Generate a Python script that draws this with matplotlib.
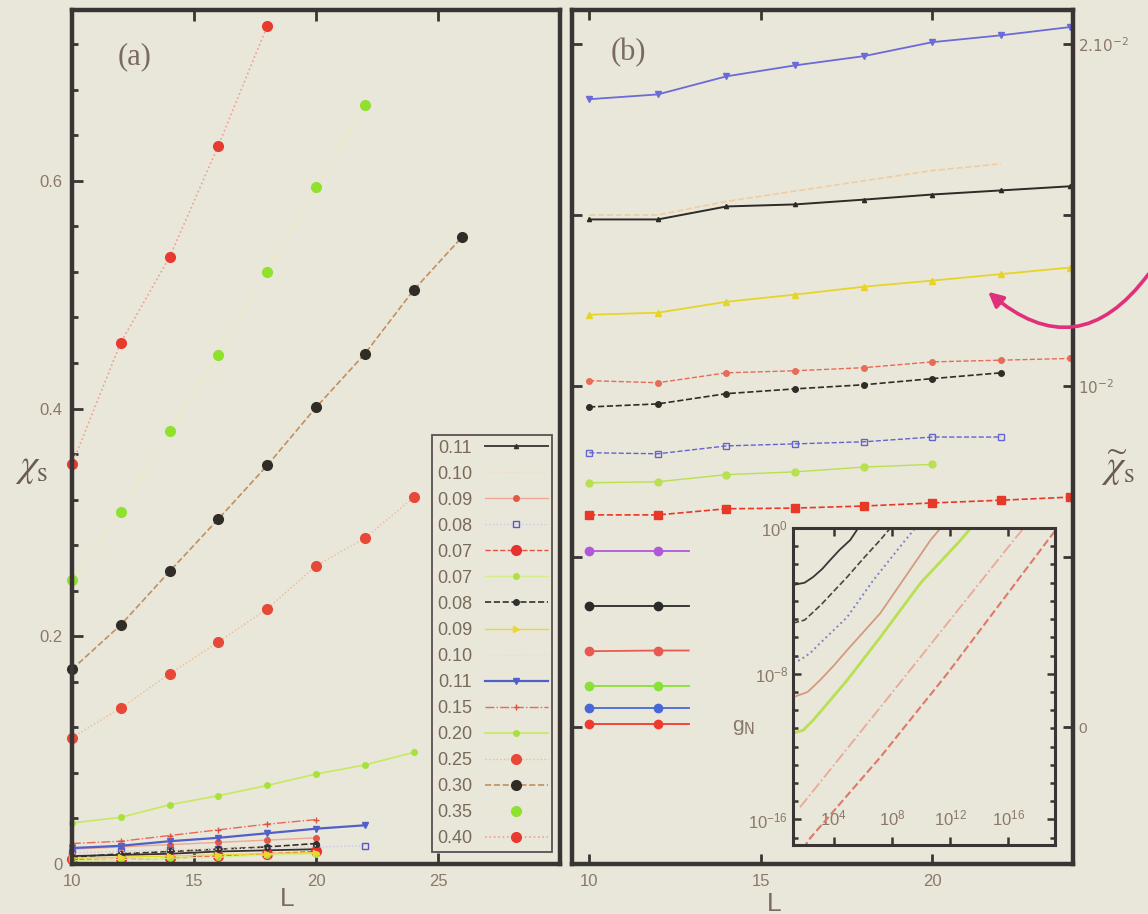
import matplotlib
matplotlib.use("Agg")
import matplotlib.pyplot as plt
from matplotlib.patches import FancyArrowPatch
from matplotlib.ticker import MultipleLocator, FixedLocator, NullFormatter, NullLocator

BG = "#e9e7da"
INK = "#3a3434"
TXT = "#8a7868"

# ---- panel (a): chi_s versus L ----
L_a = [10, 12, 14, 16, 18, 20, 22, 24, 26]
chi_a_011k = [0.007, 0.008, 0.009, 0.011, 0.012, 0.013]
chi_a_010a = [0.010, 0.011, 0.013, 0.014, 0.016, 0.017]
chi_a_009r = [0.013, 0.015, 0.017, 0.019, 0.021, 0.023]
chi_a_008b = [0.010, 0.011, 0.012, 0.013, 0.014, 0.015, 0.016]
chi_a_007r = [0.004, 0.004, 0.005, 0.007, 0.009, 0.011]
chi_a_007g = [0.003, 0.004, 0.005, 0.006, 0.008, 0.009]
chi_a_008k = [0.006, 0.009, 0.011, 0.013, 0.015, 0.018]
chi_a_009y = [0.005, 0.006, 0.007, 0.008, 0.009, 0.010]
chi_a_010p = [0.009, 0.010, 0.012, 0.013, 0.014, 0.016]
chi_a_011b = [0.014, 0.016, 0.020, 0.023, 0.027, 0.031, 0.034]
chi_a_015 = [0.018, 0.020, 0.025, 0.030, 0.035, 0.039]
chi_a_020 = [0.036, 0.041, 0.052, 0.060, 0.069, 0.079, 0.087, 0.098]
chi_a_025 = [0.111, 0.137, 0.167, 0.195, 0.224, 0.262, 0.286, 0.322]
chi_a_030 = [0.171, 0.210, 0.257, 0.303, 0.350, 0.401, 0.448, 0.504, 0.551]
chi_a_035 = [0.249, 0.309, 0.380, 0.447, 0.520, 0.595, 0.667]
chi_a_040 = [0.351, 0.458, 0.533, 0.631, 0.736]
labels_a = ["0.11", "0.10", "0.09", "0.08", "0.07", "0.07", "0.08", "0.09",
            "0.10", "0.11", "0.15", "0.20", "0.25", "0.30", "0.35", "0.40"]

# ---- panel (b): rescaled chi_s versus L ----
L_b = [10, 12, 14, 16, 18, 20, 22, 24]
L_b_short = [10, 12, 12.9]
chit_b1 = [0.01839, 0.01853, 0.01906, 0.01938, 0.01965, 0.02006, 0.02026, 0.0205]
chit_b2 = [0.01487, 0.01487, 0.01525, 0.01531, 0.01545, 0.0156, 0.01572, 0.01584]
chit_b3 = [0.0150, 0.0150, 0.0154, 0.0157, 0.0160, 0.0163, 0.0165]
chit_b4 = [0.01208, 0.01214, 0.01246, 0.01267, 0.0129, 0.01308, 0.01327, 0.01346]
chit_b5 = [0.01015, 0.01009, 0.01038, 0.01044, 0.01053, 0.0107, 0.01075, 0.0108]
chit_b6 = [0.00938, 0.00947, 0.00977, 0.00991, 0.01003, 0.01021, 0.01038]
chit_b7 = [0.00804, 0.00801, 0.00824, 0.0083, 0.00836, 0.0085, 0.0085]
chit_b8 = [0.00716, 0.00719, 0.0074, 0.00748, 0.00762, 0.0077]
chit_b9 = [0.00622, 0.00622, 0.0064, 0.00642, 0.00648, 0.00657, 0.00665, 0.00674]
chit_b10 = [0.00516, 0.00516, 0.00516]
chit_b11 = [0.00355, 0.00355, 0.00355]
chit_b12 = [0.00223, 0.00225, 0.00225]
chit_b13 = [0.0012, 0.0012, 0.0012]
chit_b14 = [0.00056, 0.00056, 0.00056]
chit_b15 = [0.00009, 0.00009, 0.00009]

# ---- inset: g_N versus N (log10 of both) ----
logN_1 = [1.2, 2.0, 2.58, 3.2, 3.75, 4.4, 5.13, 5.68]
logg_1 = [-3.13, -3.0, -2.69, -2.25, -1.76, -1.2, -0.66, 0.0]
logN_2 = [1.2, 2.0, 2.58, 3.2, 3.75, 4.92, 6.0, 7.19, 7.89]
logg_2 = [-5.22, -5.05, -4.62, -4.15, -3.68, -2.69, -1.7, -0.66, 0.0]
logN_3 = [1.2, 1.68, 2.4, 3.06, 4.0, 4.92, 6.72, 8.92, 9.61]
logg_3 = [-7.36, -7.25, -6.85, -6.32, -5.6, -4.89, -2.86, -0.66, 0.0]
logN_4 = [1.2, 2.2, 3.06, 4.0, 4.92, 7.2, 10.65, 11.34]
logg_4 = [-9.29, -9.0, -8.35, -7.55, -6.70, -4.67, -0.66, 0.0]
logN_5 = [1.2, 1.9, 2.58, 3.6, 4.92, 7.2, 9.96, 12.72, 13.41]
logg_5 = [-11.26, -11.1, -10.55, -9.6, -8.35, -5.99, -3.02, -0.66, 0.0]
logN_6 = [1.68, 7.2, 11.82, 16.37, 17.06]
logg_6 = [-15.33, -9.84, -5.22, -0.66, 0.0]
logN_7 = [1.9, 2.37, 7.2, 11.82, 18.72, 19.2]
logg_7 = [-17.6, -17.03, -12.58, -7.97, -0.66, -0.16]

plt.rcParams["font.family"] = ["Liberation Sans", "DejaVu Sans"]
fig = plt.figure(figsize=(11.48, 9.14), dpi=100, facecolor=BG)

ax_a = fig.add_axes([0.0627, 0.0547, 0.4251, 0.9343], facecolor=BG)
ax_b = fig.add_axes([0.4983, 0.0547, 0.4364, 0.9343], facecolor=BG)
ax_in = fig.add_axes([0.6908, 0.0755, 0.2282, 0.3468], facecolor=BG)

styles_a = [
    dict(color="#3a3030", ls="-", lw=1.3, marker="^", ms=3, mfc="#3a3030", mec="#3a3030"),
    dict(color="#f2dcc0", ls=":", lw=1.0, marker="", ms=0),
    dict(color="#f0a890", ls="-", lw=1.0, marker="o", ms=4, mfc="#e05848", mec="#e05848"),
    dict(color="#c8c8e8", ls=":", lw=1.0, marker="s", ms=5, mfc="none", mec="#5858c8"),
    dict(color="#e85040", ls="--", lw=1.0, marker="o", ms=7, mfc="#e83030", mec="#e83030"),
    dict(color="#d8ec90", ls="-", lw=1.0, marker="o", ms=4, mfc="#b0e040", mec="#b0e040"),
    dict(color="#303030", ls="--", lw=1.2, marker="o", ms=4, mfc="#303030", mec="#303030"),
    dict(color="#e8d830", ls="-", lw=1.0, marker=">", ms=4, mfc="#e8d830", mec="#e8d830"),
    dict(color="#f4d8c8", ls=":", lw=1.0, marker="", ms=0),
    dict(color="#5060c8", ls="-", lw=1.6, marker="v", ms=4, mfc="#5060c8", mec="#5060c8"),
    dict(color="#e86858", ls="-.", lw=1.0, marker="+", ms=5, mfc="#e05040", mec="#e05040"),
    dict(color="#c8e860", ls="-", lw=1.2, marker="o", ms=4, mfc="#a8e040", mec="#a8e040"),
    dict(color="#f0b890", ls=":", lw=1.0, marker="o", ms=7, mfc="#e84838", mec="#e84838"),
    dict(color="#c09060", ls="--", lw=1.2, marker="o", ms=7, mfc="#302c28", mec="#302c28"),
    dict(color="#f0e8a8", ls=":", lw=1.0, marker="o", ms=7, mfc="#90e030", mec="#90e030"),
    dict(color="#f0a090", ls=":", lw=1.2, marker="o", ms=7, mfc="#e83a30", mec="#e83a30"),
]
series_a = [chi_a_011k, chi_a_010a, chi_a_009r, chi_a_008b, chi_a_007r, chi_a_007g,
            chi_a_008k, chi_a_009y, chi_a_010p, chi_a_011b, chi_a_015, chi_a_020,
            chi_a_025, chi_a_030, chi_a_035, chi_a_040]
for lab, vals, st in zip(labels_a, series_a, styles_a):
    ax_a.plot(L_a[:len(vals)], vals, label=lab, clip_on=False, **st)

ax_a.set_xlim(10, 30)
ax_a.set_ylim(0, 0.75)
ax_a.xaxis.set_major_locator(FixedLocator([10, 15, 20, 25]))
ax_a.xaxis.set_minor_locator(NullLocator())
ax_a.yaxis.set_major_locator(FixedLocator([0, 0.2, 0.4, 0.6]))
ax_a.yaxis.set_minor_locator(MultipleLocator(0.04))
ax_a.set_yticklabels(["0", "0.2", "0.4", "0.6"])
ax_a.tick_params(which="both", direction="in", top=True, right=False,
                 colors=INK, labelcolor=TXT, labelsize=12, width=2)
ax_a.tick_params(which="major", length=8, pad=7)
ax_a.tick_params(which="minor", length=4)

leg = ax_a.legend(loc="lower right", bbox_to_anchor=(1.003, 0.004), fontsize=13,
                  markerfirst=False, handlelength=3.5, handletextpad=0.7,
                  labelspacing=0.5, borderpad=0.25, fancybox=False,
                  facecolor=BG, edgecolor="#5a5050", framealpha=1.0,
                  labelcolor="#7a6a5a")
leg.get_frame().set_linewidth(1.3)

styles_b = [
    dict(color="#6a6ad8", ls="-", lw=1.3, marker="v", ms=4),
    dict(color="#2e2a26", ls="-", lw=1.4, marker="^", ms=3),
    dict(color="#f2cca0", ls="--", lw=1.2, marker="", ms=0),
    dict(color="#e6d428", ls="-", lw=1.3, marker="^", ms=4),
    dict(color="#e86a58", ls="--", lw=1.0, marker="o", ms=4),
    dict(color="#302c28", ls="--", lw=1.2, marker="o", ms=4),
    dict(color="#6464d0", ls="--", lw=1.0, marker="s", ms=5, mfc="none"),
    dict(color="#b8e050", ls="-", lw=1.0, marker="o", ms=5),
    dict(color="#e83828", ls="--", lw=1.2, marker="s", ms=6),
]
series_b = [chit_b1, chit_b2, chit_b3, chit_b4, chit_b5, chit_b6, chit_b7, chit_b8, chit_b9]
for vals, st in zip(series_b, styles_b):
    ax_b.plot(L_b[:len(vals)], vals, **st)

short_colors = ["#b058d8", "#2a2a28", "#e85a50", "#88e038", "#4868d8", "#f03a30"]
short_series = [chit_b10, chit_b11, chit_b12, chit_b13, chit_b14, chit_b15]
for vals, c in zip(short_series, short_colors):
    ax_b.plot(L_b_short, vals, color=c, lw=1.3, marker="o", ms=6, markevery=[0, 1])

ax_b.set_xlim(9.5, 24.1)
ax_b.set_ylim(-0.004, 0.021)
ax_b.xaxis.set_major_locator(FixedLocator([10, 15, 20]))
ax_b.xaxis.set_minor_locator(NullLocator())
ax_b.yaxis.set_major_locator(FixedLocator([0, 0.005, 0.01, 0.015, 0.02]))
ax_b.yaxis.set_minor_locator(NullLocator())
ax_b.set_yticklabels(["0", "", r"$10^{-2}$", "", r"$2.10^{-2}$"])
ax_b.tick_params(which="both", direction="in", top=True, left=True, right=True,
                 labelleft=False, labelright=True, colors=INK, labelcolor=TXT,
                 labelsize=11, width=2, length=7)
ax_b.tick_params(axis="x", labelsize=12, pad=7)

for ax in (ax_a, ax_b):
    for sp in ax.spines.values():
        sp.set_linewidth(3.2)
        sp.set_color(INK)

inset_styles = [
    dict(color="#3a3636", ls="-", lw=1.3),
    dict(color="#4a4644", ls="--", lw=1.2),
    dict(color="#8080c8", ls=":", lw=1.4),
    dict(color="#d49a80", ls="-", lw=1.3),
    dict(color="#b8e050", ls="-", lw=2.0),
    dict(color="#eaa898", ls="-.", lw=1.3),
    dict(color="#e07868", ls="--", lw=1.5),
]
inset_x = [logN_1, logN_2, logN_3, logN_4, logN_5, logN_6, logN_7]
inset_y = [logg_1, logg_2, logg_3, logg_4, logg_5, logg_6, logg_7]
for xs, ys, st in zip(inset_x, inset_y, inset_styles):
    ax_in.plot([10.0 ** v for v in xs], [10.0 ** v for v in ys], **st)

ax_in.set_xscale("log")
ax_in.set_yscale("log")
ax_in.set_xlim(10 ** 1.2, 10 ** 19.2)
ax_in.set_ylim(10 ** -17.4, 1.0)
ax_in.xaxis.set_major_locator(FixedLocator([1e4, 1e8, 1e12, 1e16]))
ax_in.xaxis.set_minor_locator(NullLocator())
ax_in.yaxis.set_major_locator(FixedLocator([1e0, 1e-8, 1e-16]))
ax_in.yaxis.set_minor_locator(FixedLocator([10.0 ** -k for k in range(0, 18)]))
ax_in.yaxis.set_minor_formatter(NullFormatter())
ax_in.tick_params(which="both", direction="in", top=True, right=True,
                  colors=INK, labelcolor=TXT, labelsize=12, width=1.8)
ax_in.tick_params(which="major", length=6)
ax_in.tick_params(which="minor", length=3.5)
ax_in.tick_params(axis="x", pad=-26)
for sp in ax_in.spines.values():
    sp.set_linewidth(2.2)
    sp.set_color(INK)
ax_in.text(-0.19, 0.372, r"g$_{\rm N}$", transform=ax_in.transAxes, fontsize=15,
           color=TXT, ha="center", va="center")

# panel tags and axis labels
fig.text(0.1176, 0.9376, "(a)", fontsize=22, color="#7a6a60",
         family=["Liberation Serif"], ha="center", va="center")
fig.text(0.547, 0.943, "(b)", fontsize=22, color="#7a6a60",
         family=["Liberation Serif"], ha="center", va="center")
fig.text(0.028, 0.488, r"$\chi_{\mathrm{s}}$", fontsize=28, color="#6a5c52",
         math_fontfamily="stix", ha="center", va="center")
fig.text(0.974, 0.488, r"$\widetilde{\chi}_{\mathrm{s}}$", fontsize=28, color="#6a5c52",
         math_fontfamily="stix", ha="center", va="center")
fig.text(0.25, 0.016, "L", fontsize=19, color="#7a6a60", ha="center", va="center")
fig.text(0.674, 0.011, "L", fontsize=19, color="#7a6a60", ha="center", va="center")

arrow = FancyArrowPatch(posA=(1150 / 1148, 1 - 272 / 914), posB=(986 / 1148, 1 - 290 / 914),
                        transform=fig.transFigure, connectionstyle="arc3,rad=-0.55",
                        arrowstyle="-|>", mutation_scale=22, lw=2.6, color="#e0307a",
                        zorder=10)
fig.add_artist(arrow)

fig.savefig("out.png", dpi=100, facecolor=BG)
